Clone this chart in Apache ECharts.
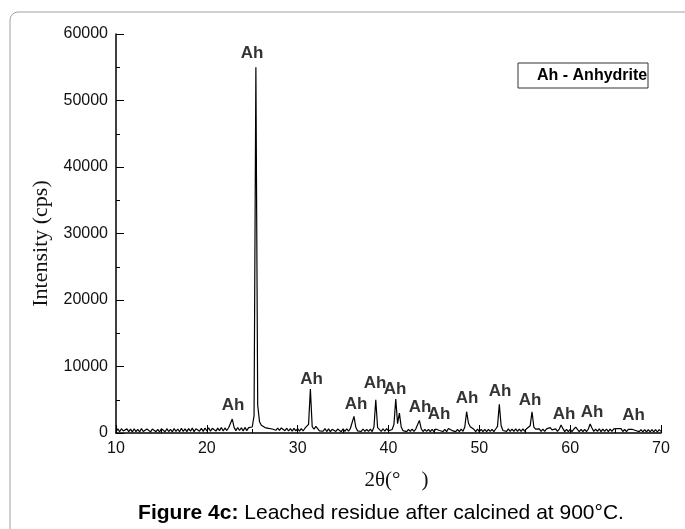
<!DOCTYPE html>
<html>
<head>
<meta charset="utf-8">
<script src="https://cdn.jsdelivr.net/npm/echarts@6/dist/echarts.min.js"></script>
<style>
  html, body { margin: 0; padding: 0; background: #fff; }
  #main { width: 685px; height: 529px; }
</style>
</head>
<body>
<div id="main"></div>
<script>
// XRD scan: start angle, step, and counts (one row = 2 degrees)
var startAngle = 10;
var stepAngle = 0.2;
var counts = [
    220, 610, 180, 650, 300, 140, 620, 210, 580, 160,
    640, 200, 560, 150, 670, 230, 190, 610, 450, 170,
    590, 660, 200, 540, 150, 630, 470, 180, 650, 220,
    560, 160, 680, 230, 600, 190, 710, 250, 620, 200,
    660, 270, 730, 210, 640, 760, 280, 690, 240, 750,
    320, 780, 260, 700, 810, 290, 740, 350, 820, 310,
    760, 370, 790, 700, 2100, 850, 360, 820, 380, 790,
    320, 840, 360, 810, 700, 900, 2600, 55000, 4200, 1700,
    1150, 950, 820, 760, 690, 820, 600, 760, 410, 720,
    380, 760, 900, 350, 720, 300, 670, 280, 700, 320,
    650, 280, 670, 300, 720, 650, 1300, 6600, 950, 560,
    1000, 720, 320, 580, 260, 650, 220, 610, 200, 560,
    630, 230, 590, 660, 200, 610, 250, 640, 280, 670,
    700, 2500, 850, 320, 560, 230, 600, 240, 560, 250,
    580, 220, 900, 5000, 800, 620, 250, 640, 280, 660,
    320, 580, 520, 1300, 5100, 1400, 3000, 900, 350, 580,
    210, 550, 230, 580, 260, 600, 800, 1900, 650, 220,
    560, 230, 540, 200, 550, 220, 600, 900, 380, 580,
    220, 540, 200, 680, 900, 360, 570, 210, 540, 220,
    580, 250, 900, 3200, 1500, 950, 1000, 550, 220, 580,
    220, 550, 210, 530, 200, 560, 230, 540, 210, 600,
    1000, 4300, 1100, 380, 600, 250, 620, 230, 600, 250,
    610, 240, 590, 230, 620, 260, 640, 600, 1100, 3200,
    900, 580, 280, 620, 240, 600, 250, 620, 400, 800,
    480, 280, 620, 250, 600, 1200, 650, 200, 560, 220,
    550, 210, 580, 900, 600, 220, 550, 200, 530, 220,
    600, 1350, 750, 250, 580, 240, 610, 220, 590, 230,
    600, 210, 580, 240, 610, 460, 650, 380, 660, 220,
    560, 210, 540, 250, 560, 750, 380, 560, 200, 520,
    180, 510, 170, 490, 160, 520, 180, 500, 150, 510,
    240
];

// "Ah" peak labels (angle, intensity where the label sits)
var labelAngle = [22.89, 24.98, 31.53, 36.43, 38.52, 40.73, 43.48, 45.57, 48.66, 52.29, 55.59, 59.34, 62.42, 66.99];
var labelCounts = [4140, 57140, 8120, 4360, 7500, 6600, 3830, 2860, 5200, 6240, 4960, 2860, 3080, 2630];
var labelText = 'Ah';

var xTicks = { min: 10, max: 70, interval: 10 };
var yTicks = { min: 0, max: 60000, interval: 10000 };

var pattern = counts.map(function (c, i) {
    return [+(startAngle + i * stepAngle).toFixed(1), c];
});
var labelPts = labelAngle.map(function (a, i) { return [a, labelCounts[i]]; });

var chart = echarts.init(document.getElementById('main'));
chart.setOption({
    animation: false,
    backgroundColor: '#fff',
    grid: { left: 116, right: 24, top: 34, bottom: 96 },
    xAxis: {
        type: 'value',
        min: xTicks.min, max: xTicks.max, interval: xTicks.interval,
        name: '2\u03b8(\u00b0    )',
        nameLocation: 'middle',
        nameGap: 37,
        nameTextStyle: { fontFamily: 'Liberation Serif', fontSize: 21, color: '#111', padding: [0, 0, 0, 16] },
        axisLine: { lineStyle: { color: '#000', width: 1.5 } },
        axisTick: { inside: true, length: 8, lineStyle: { color: '#000' } },
        minorTick: { show: true, splitNumber: 2, length: 4, lineStyle: { color: '#000' } },
        axisLabel: { fontFamily: 'Liberation Sans', fontSize: 16, color: '#111', margin: 8 },
        splitLine: { show: false }
    },
    yAxis: {
        type: 'value',
        min: yTicks.min, max: yTicks.max, interval: yTicks.interval,
        name: 'Intensity (cps)',
        nameLocation: 'middle',
        nameGap: 60,
        nameTextStyle: { fontFamily: 'Liberation Serif', fontSize: 22, color: '#111', padding: [0, 20, 0, 0] },
        axisLine: { show: true, lineStyle: { color: '#000', width: 1.5 } },
        axisTick: { show: true, inside: true, length: 8, lineStyle: { color: '#000' } },
        minorTick: { show: true, splitNumber: 2, length: 4, lineStyle: { color: '#000' } },
        axisLabel: {
            fontFamily: 'Liberation Sans', fontSize: 16, color: '#111', margin: 8,
            formatter: function (v) { return String(v); }
        },
        splitLine: { show: false }
    },
    graphic: [
        {
            type: 'rect',
            shape: { x: 10, y: 12, width: 720, height: 560, r: 8 },
            style: { fill: 'none', stroke: '#a0a0a0', lineWidth: 1 },
            silent: true
        },
        {
            type: 'rect',
            shape: { x: 518, y: 63, width: 130, height: 25 },
            style: { fill: '#fff', stroke: '#333', lineWidth: 1 },
            z: 10
        },
        {
            type: 'text',
            x: 537, y: 75.5,
            style: {
                text: 'Ah - Anhydrite',
                font: 'bold 16px "Liberation Sans", Arial',
                fill: '#000',
                verticalAlign: 'middle'
            },
            z: 11
        },
        {
            type: 'text',
            x: 381, y: 513,
            style: {
                text: '{b|Figure 4c:} Leached residue after calcined at 900\u00b0C.',
                fontFamily: 'Liberation Sans',
                fontSize: 21,
                fill: '#000',
                align: 'center',
                verticalAlign: 'middle',
                rich: { b: { fontWeight: 'bold', fontSize: 21, fontFamily: 'Liberation Sans' } }
            }
        }
    ],
    series: [
        {
            name: 'pattern',
            type: 'line',
            data: pattern,
            showSymbol: false,
            lineStyle: { color: '#000', width: 1.2 },
            z: 3
        },
        {
            name: 'labels',
            type: 'scatter',
            data: labelPts,
            symbolSize: 0,
            label: {
                show: true,
                position: 'inside',
                formatter: labelText,
                fontFamily: 'Liberation Sans',
                fontWeight: 'bold',
                fontSize: 17,
                color: '#000'
            },
            z: 4
        }
    ]
});
</script>
</body>
</html>
